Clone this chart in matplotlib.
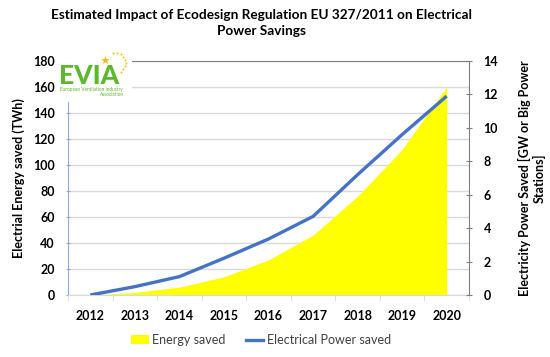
import matplotlib
matplotlib.use("Agg")
import matplotlib.pyplot as plt
import numpy as np
from matplotlib.lines import Line2D
from matplotlib.patches import Patch

plt.rcParams['font.family'] = ['Lato', 'DejaVu Sans']

# data
years = ['2012', '2013', '2014', '2015', '2016', '2017', '2018', '2019', '2020']
energy_twh = [0, 2, 6, 14, 27, 46, 76, 112, 160]     # left axis, area
power_gw = [0, 0.5, 1.1, 2.2, 3.35, 4.7, 7.2, 9.6, 11.9]  # right axis, line
left_ticks = [0, 20, 40, 60, 80, 100, 120, 140, 160, 180]
right_ticks = [0, 2, 4, 6, 8, 10, 12, 14]

W, H = 550, 357
fig = plt.figure(figsize=(5.5, 3.57), dpi=100)
ax = fig.add_axes([68 / W, 1 - 295 / H, (469 - 68) / W, (295 - 61) / H])
x = np.arange(len(years))

ax.fill_between(x, 0, energy_twh, color='#FFFF00', lw=0, zorder=2)
ax.set_xlim(-0.5, len(years) - 0.5)
ax.set_ylim(0, 180)
ax.set_yticks(left_ticks)
ax.yaxis.grid(True, color='#D9D9D9', lw=1)
ax.set_axisbelow(True)
ax.set_xticks(x)
ax.set_xticklabels(years, fontsize=9, fontweight='bold')
ax.set_xticks(np.arange(-0.5, len(years)), minor=True)
ax.tick_params(axis='x', which='major', length=0, pad=11)
ax.tick_params(axis='x', which='minor', length=4, color='#D9D9D9')
ax.tick_params(axis='y', length=3, direction='inout', color='#8EA9DB',
               labelsize=9, pad=8)
for lbl in ax.get_yticklabels():
    lbl.set_fontweight('bold')
ax.spines['left'].set_color('#8EA9DB')
ax.spines['bottom'].set_color('#D9D9D9')
ax.spines['top'].set_color('#808080')
ax.spines['right'].set_visible(False)
ax.set_ylabel('Electrial Energy saved (TWh)', fontsize=9, fontweight='bold',
              labelpad=6)

ax2 = ax.twinx()
ax2.plot(x, power_gw, color='#4472C4', lw=2.4, solid_capstyle='butt', zorder=3)
ax2.set_ylim(0, 14)
ax2.set_yticks(right_ticks)
ax2.tick_params(axis='y', length=5, direction='inout', color='#808080',
                labelsize=9, pad=8)
for lbl in ax2.get_yticklabels():
    lbl.set_fontweight('bold')
for s in ['left', 'top', 'bottom']:
    ax2.spines[s].set_visible(False)
ax2.spines['right'].set_color('#808080')
ax2.set_ylabel('Electricity Power Saved [GW or Big Power\nStations]',
               fontsize=9, fontweight='bold', labelpad=14)

fig.suptitle('Estimated Impact of Ecodesign Regulation EU 327/2011 on Electrical\nPower Savings',
             fontsize=9.8, fontweight='bold', y=0.975, x=0.475, linespacing=1.45)

# EVIA logo (drawn as text over a white patch)
logo = fig.add_axes([58 / W, 1 - 102 / H, 74 / W, 52 / H])
logo.set_xlim(0, 74)
logo.set_ylim(52, 0)
logo.axis('off')
logo.add_patch(plt.Rectangle((0, 0), 74, 52, color='white', zorder=0))
logo.text(1, 34, 'EVIA', color='#5DB82E', fontsize=19, fontweight='black',
          va='baseline', ha='left')
logo.text(2, 41, 'European Ventilation Industry', color='#5DB82E',
          fontsize=3.4, va='baseline')
logo.text(66, 45.5, 'Association', color='#5DB82E', fontsize=3.4,
          va='baseline', ha='right')
ang = np.linspace(100, -60, 9)
logo.scatter(57 + 11 * np.cos(np.radians(ang)), 13 - 10 * np.sin(np.radians(ang)),
             s=2, color='#F5C400', lw=0)
logo.scatter([47], [10], marker='*', s=40, color='#F5B800', lw=0)

handles = [Patch(facecolor='#FFFF00', edgecolor='none'),
           Line2D([0], [0], color='#4472C4', lw=2.4)]
fig.legend(handles, ['Energy saved', 'Electrical Power saved'], loc='center',
           bbox_to_anchor=(0.475, 1 - 340 / H), ncol=2, frameon=False,
           fontsize=9, handlelength=1.4, handletextpad=0.3, columnspacing=1.6,
           labelcolor='#404040')

fig.savefig('out.png', dpi=100)
